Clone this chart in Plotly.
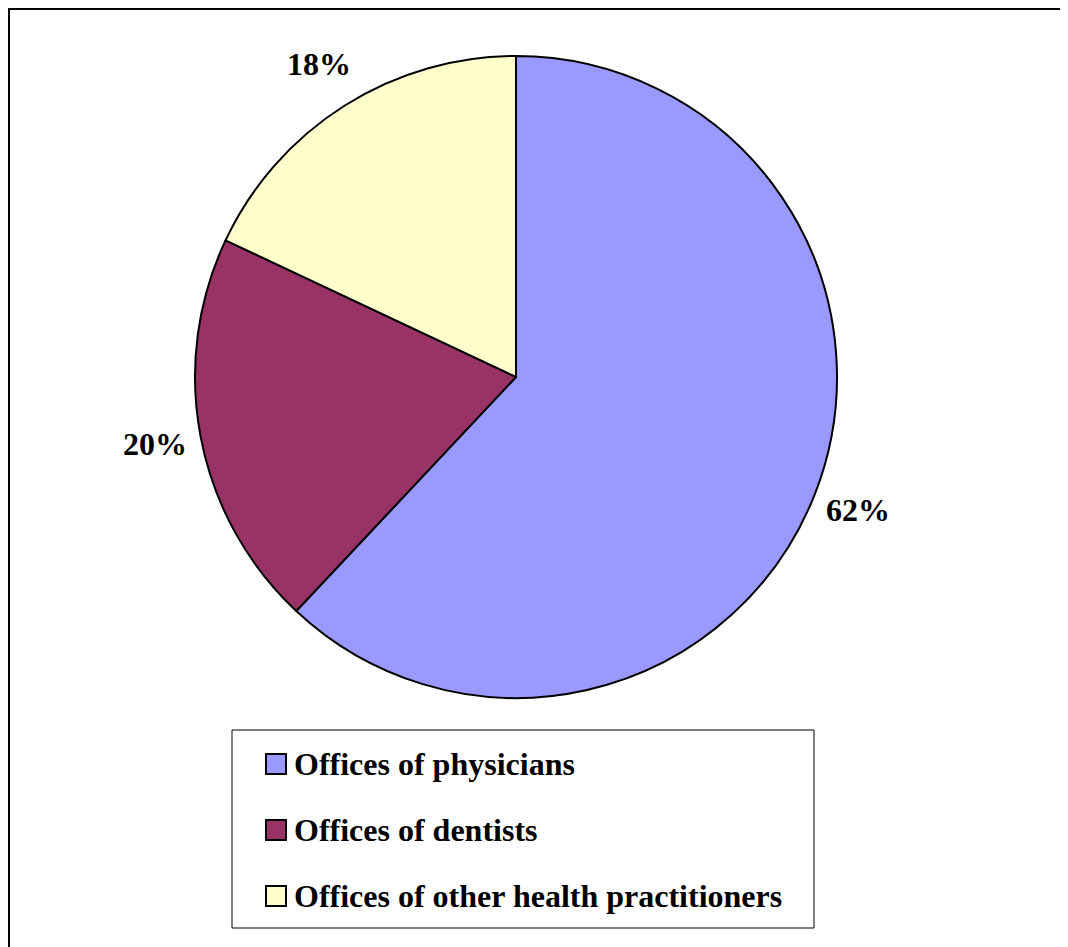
import math
import plotly.graph_objects as go

categories = ["Offices of physicians", "Offices of dentists", "Offices of other health practitioners"]
values = [62, 20, 18]
colors = ["#9999FF", "#993366", "#FFFFCC"]

# page offset introduced by the default body margin of the html page
OFF = 8
W, H = 1068 - OFF, 947 - OFF
FONT = "Liberation Serif"

def px(x):
    return (x - OFF) / W

def py(y):
    return 1 - (y - OFF) / H

cx, cy, r = 516, 377, 321

fig = go.Figure()
fig.add_trace(go.Pie(
    labels=categories,
    values=values,
    sort=False,
    direction="clockwise",
    rotation=0,
    marker=dict(colors=colors, line=dict(color="black", width=2)),
    textinfo="none",
    hoverinfo="label+percent",
    showlegend=False,
    domain=dict(x=[px(cx - r), px(cx + r)], y=[py(cy + r), py(cy - r)]),
))

annotations = []
total = sum(values)
cum = 0
label_r = 368
for v in values:
    mid = (cum + v / 2) / total * 2 * math.pi
    cum += v
    lx = cx + label_r * math.sin(mid)
    ly = cy - label_r * math.cos(mid) - 2
    annotations.append(dict(
        x=px(lx), y=py(ly), xref="paper", yref="paper",
        text=f"{round(v / total * 100)}%", showarrow=False,
        xanchor="center", yanchor="middle",
        font=dict(family=FONT, size=32, color="black", weight="bold"),
    ))

shapes = [
    # outer frame (right/bottom edges fall outside the visible page)
    dict(type="rect", xref="paper", yref="paper",
         x0=px(8.5), x1=px(1100), y0=py(1000), y1=py(8.5),
         line=dict(color="black", width=3), fillcolor="rgba(0,0,0,0)"),
    # legend box
    dict(type="rect", xref="paper", yref="paper",
         x0=px(232), x1=px(814), y0=py(928), y1=py(730),
         line=dict(color="black", width=1), fillcolor="white"),
]

row_y = [764, 830, 896]
for name, col, yy in zip(categories, colors, row_y):
    shapes.append(dict(type="rect", xref="paper", yref="paper",
                       x0=px(266), x1=px(286), y0=py(yy + 10), y1=py(yy - 10),
                       line=dict(color="black", width=2), fillcolor=col))
    annotations.append(dict(
        x=px(292), y=py(yy), xref="paper", yref="paper",
        text=name, showarrow=False, xanchor="left", yanchor="middle",
        font=dict(family=FONT, size=32, color="black", weight="bold"),
    ))

fig.update_layout(
    width=W, height=H,
    margin=dict(l=0, r=0, t=0, b=0),
    paper_bgcolor="white", plot_bgcolor="white",
    shapes=shapes, annotations=annotations,
    showlegend=False,
)

fig.write_html("out.html")
